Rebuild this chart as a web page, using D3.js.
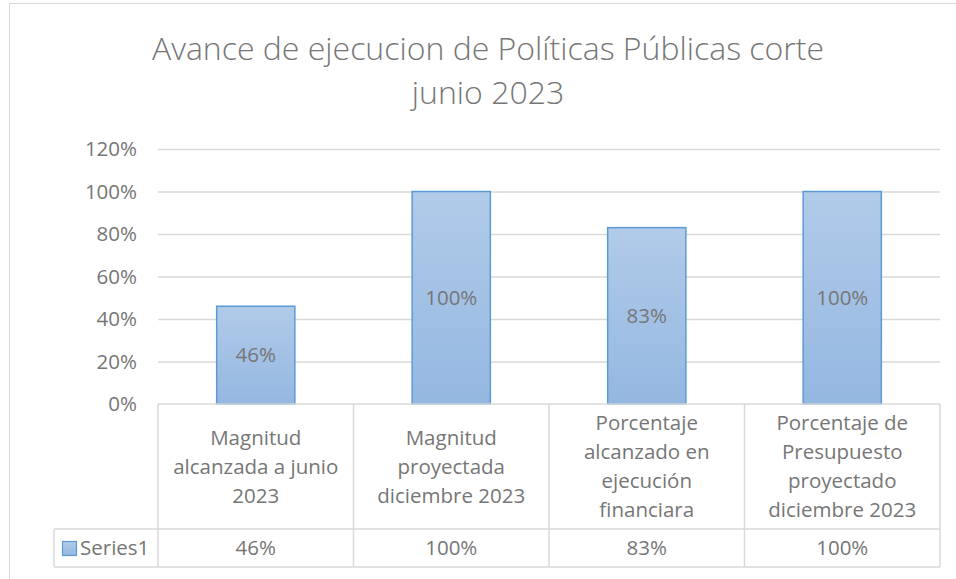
<!DOCTYPE html>
<html>
<head>
<meta charset="utf-8">
<script src="https://cdn.jsdelivr.net/npm/d3@7"></script>
<style>
  body { margin: 0; background: #fff; }
  svg { display: block; font-family: "Open Sans", Lato, sans-serif; }
</style>
</head>
<body>
<svg id="chart" width="956" height="579"></svg>
<script>
// data
const categories = [
  "Magnitud alcanzada a junio 2023",
  "Magnitud proyectada diciembre 2023",
  "Porcentaje alcanzado en ejecución financiara",
  "Porcentaje de Presupuesto proyectado diciembre 2023"
];
const categoryLines = [
  ["Magnitud", "alcanzada a junio", "2023"],
  ["Magnitud", "proyectada", "diciembre 2023"],
  ["Porcentaje", "alcanzado en", "ejecución", "financiara"],
  ["Porcentaje de", "Presupuesto", "proyectado", "diciembre 2023"]
];
const values = [0.46, 1.00, 0.83, 1.00];
const yTicks = [0, 0.2, 0.4, 0.6, 0.8, 1.0, 1.2];
const seriesName = "Series1";
const titleLines = ["Avance de ejecucion de Políticas Públicas corte", "junio 2023"];

const svg = d3.select("#chart");
const textColor = "#767676";
const lineColor = "#d9d9d9";
const fmt = d3.format(".0%");
const small = "20.5px";

// outer chart border
svg.append("rect")
  .attr("x", 9.5).attr("y", 3.5)
  .attr("width", 970).attr("height", 600)
  .attr("fill", "none").attr("stroke", lineColor);

// title
svg.append("g").selectAll("text")
  .data(titleLines)
  .join("text")
  .attr("x", 488)
  .attr("y", (d, i) => 60 + i * 44)
  .attr("text-anchor", "middle")
  .attr("fill", textColor)
  .style("font-size", "32px")
  .style("font-weight", 300)
  .text(d => d);

// scales
const x = d3.scaleBand().domain(categories).range([158, 940]);
const y = d3.scaleLinear().domain([0, 1.2]).range([404, 149]);

// gridlines
svg.append("g")
  .attr("transform", "translate(158,0)")
  .call(d3.axisLeft(y).tickValues(yTicks.slice(1)).tickSize(-(940 - 158)).tickFormat(""))
  .call(g => g.select(".domain").remove())
  .call(g => g.selectAll("line").attr("stroke", lineColor).attr("stroke-width", 1.3));

// y tick labels
svg.append("g")
  .attr("transform", "translate(137,0)")
  .call(d3.axisLeft(y).tickValues(yTicks).tickSize(0).tickPadding(0).tickFormat(fmt))
  .call(g => g.select(".domain").remove())
  .call(g => g.selectAll("text")
    .attr("fill", textColor)
    .style("font-size", small)
    .style("font-family", "'Open Sans', sans-serif"));

// bar gradient
const defs = svg.append("defs");
const grad = defs.append("linearGradient")
  .attr("id", "barGrad")
  .attr("x1", 0).attr("y1", 0).attr("x2", 0).attr("y2", 1);
grad.append("stop").attr("offset", "0%").attr("stop-color", "#b1cbe9");
grad.append("stop").attr("offset", "100%").attr("stop-color", "#94b7e1");

const barW = x.bandwidth() * 0.4;

// bars
svg.append("g").selectAll("rect")
  .data(values)
  .join("rect")
  .attr("x", (d, i) => x(categories[i]) + (x.bandwidth() - barW) / 2)
  .attr("y", d => y(d))
  .attr("width", barW)
  .attr("height", d => y(0) - y(d))
  .attr("fill", "url(#barGrad)")
  .attr("stroke", "#5b9bd5")
  .attr("stroke-width", 1.5);

// bar labels
svg.append("g").selectAll("text")
  .data(values)
  .join("text")
  .attr("x", (d, i) => x(categories[i]) + x.bandwidth() / 2)
  .attr("y", d => (y(d) + y(0)) / 2 + 7)
  .attr("text-anchor", "middle")
  .attr("fill", textColor)
  .style("font-size", small)
  .text(d => fmt(d));

// data table
const tableTop = y(0);
const rowTop = 529;
const tableBottom = 567;
const table = svg.append("g")
  .attr("stroke", lineColor)
  .attr("stroke-width", 1.5)
  .attr("fill", "none");

table.append("line").attr("x1", 158).attr("x2", 940).attr("y1", tableTop).attr("y2", tableTop);
table.append("line").attr("x1", 54).attr("x2", 940).attr("y1", rowTop).attr("y2", rowTop);
table.append("line").attr("x1", 54).attr("x2", 940).attr("y1", tableBottom).attr("y2", tableBottom);
table.append("line").attr("x1", 54).attr("x2", 54).attr("y1", rowTop).attr("y2", tableBottom);

const edges = categories.map(c => x(c)).concat([x.range()[1]]);
table.selectAll("line.v")
  .data(edges)
  .join("line")
  .attr("class", "v")
  .attr("x1", d => d).attr("x2", d => d)
  .attr("y1", tableTop).attr("y2", tableBottom);

// category labels
const catG = svg.append("g");
categoryLines.forEach((lines, i) => {
  const cx = x(categories[i]) + x.bandwidth() / 2;
  const mid = (tableTop + rowTop) / 2;
  catG.append("g").selectAll("text")
    .data(lines)
    .join("text")
    .attr("x", cx)
    .attr("y", (d, j) => mid + (j - (lines.length - 1) / 2) * 29 + 7)
    .attr("text-anchor", "middle")
    .attr("fill", textColor)
    .style("font-size", small)
    .text(d => d);
});

// value row
svg.append("g").selectAll("text")
  .data(values)
  .join("text")
  .attr("x", (d, i) => x(categories[i]) + x.bandwidth() / 2)
  .attr("y", (rowTop + tableBottom) / 2 + 7)
  .attr("text-anchor", "middle")
  .attr("fill", textColor)
  .style("font-size", small)
  .text(d => fmt(d));

// legend key
svg.append("rect")
  .attr("x", 62.5).attr("y", 541.5)
  .attr("width", 14).attr("height", 14)
  .attr("fill", "url(#barGrad)")
  .attr("stroke", "#5b9bd5")
  .attr("stroke-width", 1.2);
svg.append("text")
  .attr("x", 80)
  .attr("y", (rowTop + tableBottom) / 2 + 7)
  .attr("fill", textColor)
  .style("font-size", small)
  .text(seriesName);
</script>
</body>
</html>
